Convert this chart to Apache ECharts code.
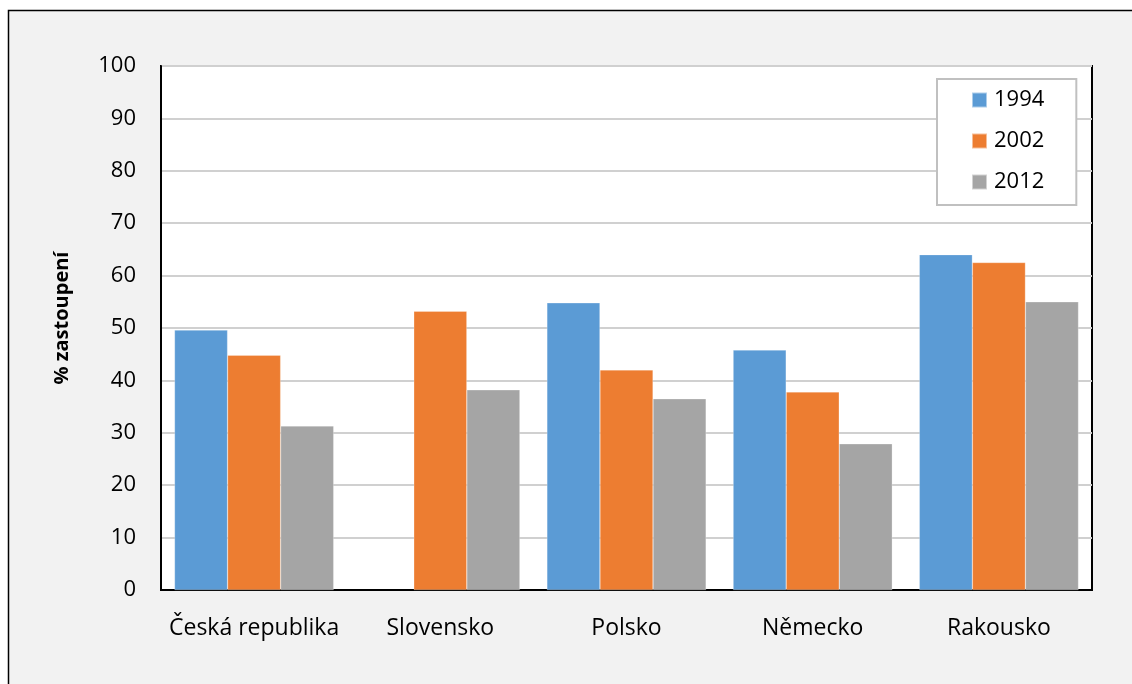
<!DOCTYPE html>
<html><head><meta charset="utf-8">
<script src="https://cdn.jsdelivr.net/npm/echarts@6/dist/echarts.min.js"></script>
<style>html,body{margin:0;padding:0;background:#fff;}#c{width:1132px;height:684px;}</style>
</head><body><div id="c"></div>
<script>
const categories = ['Česká republika', 'Slovensko', 'Polsko', 'Německo', 'Rakousko'];
const seriesNames = ['1994', '2002', '2012'];
const values1994 = [49.6, null, 54.8, 45.8, 64.0];
const values2002 = [44.8, 53.2, 42.0, 37.8, 62.5];
const values2012 = [31.3, 38.2, 36.5, 27.9, 55.0];
const yTicks = [0, 100, 10];
const yAxisTitle = '% zastoupení';

const colors = ['#5b9bd5', '#ed7d31', '#a5a5a5'];
const font = '"Open Sans", sans-serif';
const chart = echarts.init(document.getElementById('c'));
const dataSets = [values1994, values2002, values2012];
chart.setOption({
  animation: false,
  color: colors,
  graphic: [
    { type: 'rect', z: -100, shape: { x: 8.5, y: 10.5, width: 1200, height: 800 },
      style: { fill: '#f2f2f2', stroke: '#000', lineWidth: 1.5 } },
    { type: 'text', x: 62, y: 318, rotation: Math.PI / 2,
      style: { text: yAxisTitle, font: 'bold 20px ' + font, fill: '#000',
        textAlign: 'center', textVerticalAlign: 'middle' } }
  ],
  grid: { left: 161, right: 40, top: 66, bottom: 94, show: true,
    backgroundColor: '#fff', borderColor: '#000', borderWidth: 2 },
  legend: {
    orient: 'vertical', left: 937, top: 79, width: 140,
    backgroundColor: '#fff', borderColor: '#c0c0c0', borderWidth: 2,
    padding: [10, 32, 12, 34], itemWidth: 15, itemHeight: 15, itemGap: 19,
    textStyle: { fontSize: 22, fontFamily: font, color: '#000', padding: [0, 0, 0, 2] },
    icon: 'rect',
    data: seriesNames
  },
  xAxis: {
    type: 'category', data: categories,
    axisTick: { show: false },
    axisLine: { lineStyle: { color: '#000', width: 2 } },
    axisLabel: { interval: 0, fontSize: 23, fontFamily: font, color: '#000', margin: 27 }
  },
  yAxis: {
    type: 'value', min: yTicks[0], max: yTicks[1], interval: yTicks[2],
    axisLine: { show: true, lineStyle: { color: '#000', width: 2 } },
    axisTick: { show: false },
    splitLine: { lineStyle: { color: '#d0d0d0', width: 2 } },
    axisLabel: { fontSize: 22, fontFamily: font, color: '#000', margin: 25 }
  },
  series: seriesNames.map((n, i) => ({
    name: n, type: 'bar', data: dataSets[i],
    barGap: '0%', barCategoryGap: '14.5%',
    itemStyle: { borderColor: 'rgba(255,255,255,0.5)', borderWidth: 0.5 }
  }))
});
</script></body></html>
